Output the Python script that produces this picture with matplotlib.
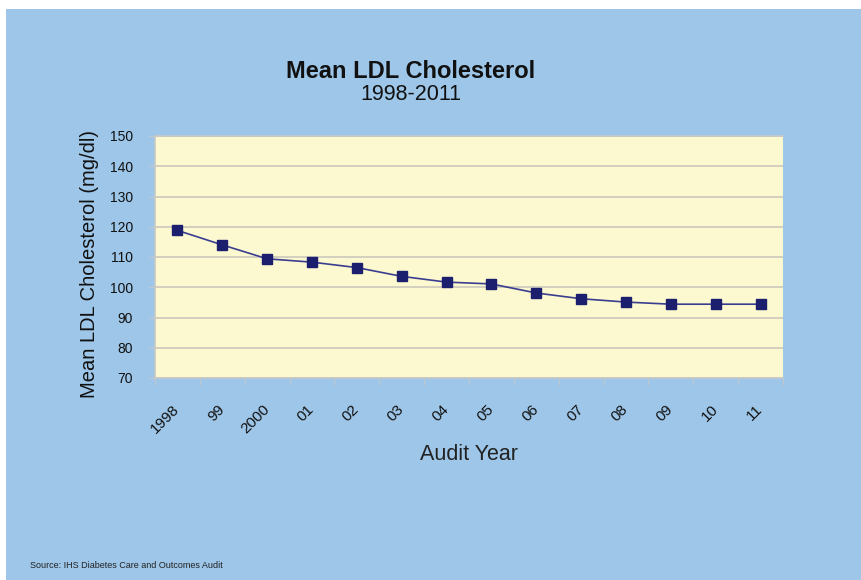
import matplotlib.pyplot as plt
from matplotlib.patches import Rectangle

years = ['1998', '99', '2000', '01', '02', '03', '04', '05', '06', '07', '08', '09', '10', '11']
ldl = [118.8, 114.0, 109.4, 108.3, 106.5, 103.6, 101.7, 101.1, 98.1, 96.2, 95.1, 94.4, 94.4, 94.4]
yticks = [70, 80, 90, 100, 110, 120, 130, 140, 150]

plt.rcParams['font.family'] = ['Liberation Sans', 'DejaVu Sans']

blue = '#9DC6E9'
fig = plt.figure(figsize=(8.61, 5.80), dpi=100, facecolor='white')
fig.patches.append(Rectangle((6 / 861, 0), 1, 1 - 9 / 580, transform=fig.transFigure,
                             facecolor=blue, edgecolor='none', zorder=-10))

ax = fig.add_axes([155 / 861, 1 - 378 / 580, 628 / 861, 242 / 580])
ax.set_zorder(5)
ax.set_facecolor('#FCF8CF')

x = list(range(len(years)))
ax.plot(x, ldl, color='#3A3E90', linewidth=1.2, marker='s', markersize=7.5,
        markerfacecolor='#1B1F6E', markeredgecolor='#1B1F6E', zorder=3)

ax.set_xlim(-0.5, len(years) - 0.5)
ax.set_ylim(70, 150)
ax.set_yticks(yticks)
ax.grid(axis='y', color='#D2CFC0', linewidth=1.4)
ax.set_axisbelow(True)

ax.set_xticks(x)
ax.set_xticklabels(years, rotation=45, ha='right', va='center', rotation_mode='anchor', fontsize=11)
ax.set_xticks([i - 0.5 for i in range(len(years) + 1)], minor=True)
ax.tick_params(axis='x', which='major', length=0, pad=21, colors='#111111')
ax.tick_params(axis='x', which='minor', length=5, color='#C8C8C8')
ax.tick_params(axis='y', length=4, color='#C8C8C8', pad=12, labelsize=10, labelcolor='#111111')

for side in ['left', 'bottom', 'top']:
    ax.spines[side].set_color('#C8C8C8')
    ax.spines[side].set_linewidth(1.2)
ax.spines['right'].set_visible(False)

ax.set_xlabel('Audit Year', fontsize=15.5, color='#222222', va='center')
ax.xaxis.set_label_coords(0.5, -0.318)
ax.set_ylabel('Mean LDL Cholesterol (mg/dl)', fontsize=14.5, color='#111111', va='center')
ax.yaxis.set_label_coords(-0.105, 0.473)

fig.text(411 / 861, 1 - 71 / 580, 'Mean LDL Cholesterol', ha='center', va='center',
         fontsize=17, fontweight='bold', color='#111111')
fig.text(411 / 861, 1 - 94 / 580, '1998-2011', ha='center', va='center',
         fontsize=15.5, color='#111111')
fig.text(30 / 861, 1 - 565 / 580, 'Source: IHS Diabetes Care and Outcomes Audit',
         ha='left', va='center', fontsize=6.5, color='#222222')

fig.savefig('out.png', dpi=100, facecolor=fig.get_facecolor())
